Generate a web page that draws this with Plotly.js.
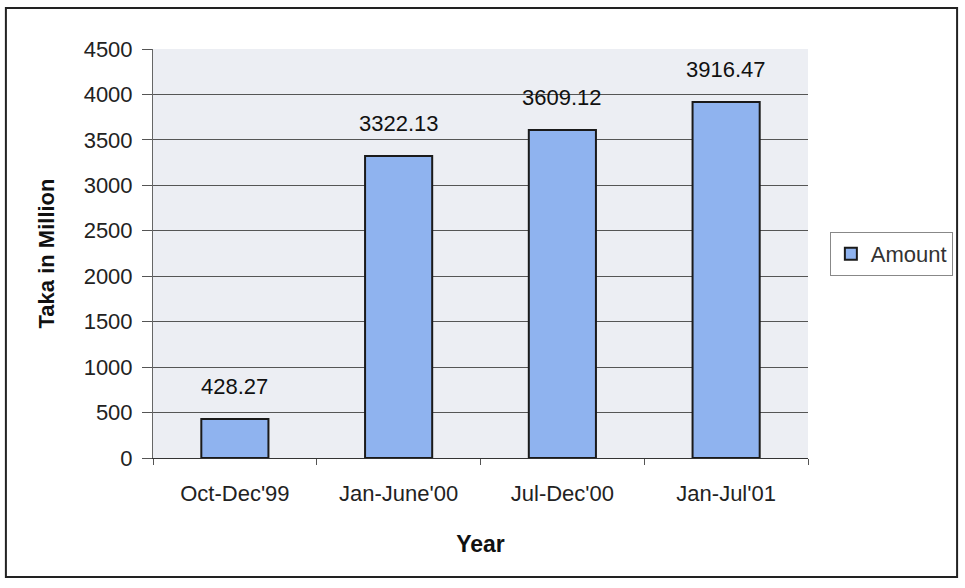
<!DOCTYPE html>
<html>
<head>
<meta charset="utf-8">
<script src="https://cdn.plot.ly/plotly-3.0.1.min.js"></script>
<style>html,body{margin:0;padding:0;background:#fff;}#chart{width:965px;height:588px;}</style>
</head>
<body>
<div id="chart"></div>
<script>
const categories = ["Oct-Dec'99", "Jan-June'00", "Jul-Dec'00", "Jan-Jul'01"];
const amounts = [428.27, 3322.13, 3609.12, 3916.47];
const labels = ["428.27", "3322.13", "3609.12", "3916.47"];
const seriesName = "Amount";

const FONT = "Arial, 'Liberation Sans', sans-serif";

const trace = {
  type: "bar",
  x: categories,
  y: amounts,
  name: seriesName,
  marker: {color: "#8fb3ef", line: {color: "#1a1a1a", width: 2}},
  width: 0.41,
  showlegend: true,
  hoverinfo: "x+y"
};

const annotations = categories.map((c, i) => ({
  x: c, y: amounts[i], xref: "x", yref: "y",
  text: labels[i], showarrow: false, yanchor: "bottom", yshift: 18,
  font: {family: FONT, size: 22, color: "#111"}
}));

const L = 153, R = 812, T = 49, B = 458, W = 965, H = 588;
const pw = R - L, ph = B - T;
const px = v => (v - L) / pw;
const py = v => (B - v) / ph;

const layout = {
  width: W, height: H,
  margin: {l: L, r: W - R, t: T, b: H - B, pad: 0},
  paper_bgcolor: "#ffffff",
  plot_bgcolor: "#eceef3",
  font: {family: FONT, size: 22, color: "#111"},
  bargap: 0.59,
  xaxis: {
    type: "category",
    tickson: "boundaries",
    ticks: "outside", ticklen: 6, tickcolor: "#555",
    showline: true, linecolor: "#333", linewidth: 1,
    showgrid: false,
    ticklabelstandoff: 16,
    tickfont: {family: FONT, size: 22, color: "#222"},
    title: {text: "Year", font: {family: FONT, size: 23, color: "#111", weight: "bold"}, standoff: 30},
    fixedrange: true
  },
  yaxis: {
    range: [0, 4500], dtick: 500, tick0: 0,
    ticks: "outside", ticklen: 10, tickcolor: "#555",
    showline: true, linecolor: "#666", linewidth: 1,
    showgrid: true, gridcolor: "#555", gridwidth: 1,
    zeroline: false,
    ticklabelstandoff: 5,
    tickfont: {family: FONT, size: 22, color: "#222"},
    title: {text: "Taka in Million", font: {family: FONT, size: 22, color: "#111", weight: "bold"}, standoff: 22},
    fixedrange: true
  },
  legend: {
    x: px(834), y: py(232), xanchor: "left", yanchor: "top",
    bgcolor: "#ffffff", bordercolor: "#888", borderwidth: 1,
    font: {family: FONT, size: 22, color: "#333"},
    itemwidth: 30
  },
  annotations: annotations,
  shapes: [{
    type: "rect", xref: "paper", yref: "paper",
    x0: px(5), x1: px(962), y0: py(577), y1: py(8),
    line: {color: "#222", width: 2}, fillcolor: "rgba(0,0,0,0)", layer: "below"
  }]
};

Plotly.newPlot("chart", [trace], layout, {displayModeBar: false, staticPlot: true});
</script>
</body>
</html>
